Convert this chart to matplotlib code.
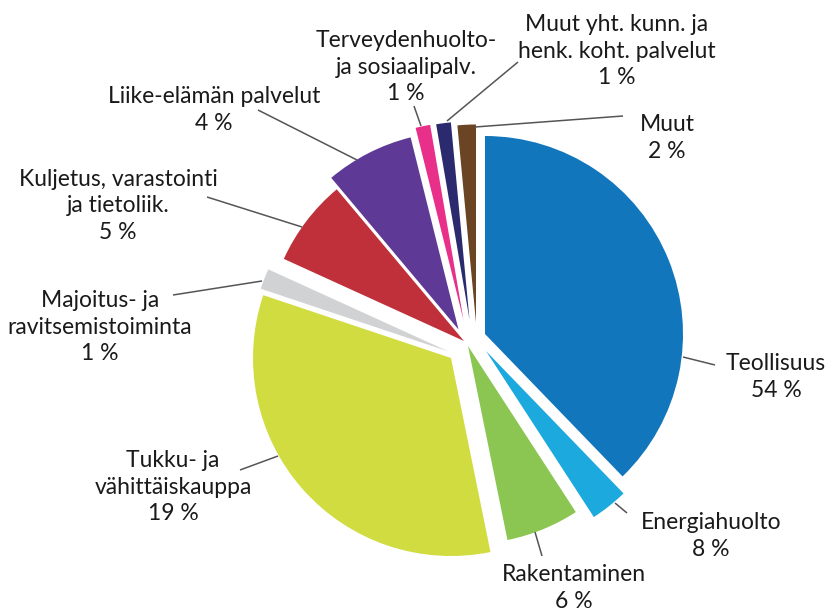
import matplotlib.pyplot as plt

W, H = 831, 611

sectors = ["Teollisuus", "Energiahuolto", "Rakentaminen",
           "Tukku- ja\nvähittäiskauppa", "Majoitus- ja\nravitsemistoiminta",
           "Kuljetus, varastointi\nja tietoliik.", "Liike-elämän palvelut",
           "Terveydenhuolto-\nja sosiaalipalv.",
           "Muut yht. kunn. ja\nhenk. koht. palvelut", "Muut"]
shares = [54, 8, 6, 19, 1, 5, 4, 1, 1, 2]          # printed in the labels
slice_deg = [136, 11, 21.5, 120, 6, 25.5, 26, 4.3, 4.3, 5.4]  # drawn slice sizes
colors = ["#1176bc", "#1ca9dd", "#8bc653", "#d1dc41", "#d1d2d4",
          "#c0303a", "#5e3a96", "#e8308a", "#2b2a6e", "#6b4423"]

# layout (pixels, y down)
cx, cy, R = 466, 338, 198
shifts = [(19, -4), (20, 13), (2, 8), (-15, 20), (-17.5, 13.5),
          (-2, 3), (-7.5, -8.5), (-2.5, -18), (3.5, -18.5), (10, -15.5)]
label_pos = [(776, 377), (711, 536), (574, 588), (173, 487), (100, 327),
             (118, 206), (214, 110), (406, 67), (617, 51), (667, 138)]
leaders = [((683, 357), (715, 365)), ((615, 503), (627, 513)),
           ((535, 532), (542, 556)), ((278, 456), (240, 470)),
           ((262, 281), (173, 295)), ((302, 227), (207, 197)),
           ((357, 160), (258, 110)), ((421, 126), (414, 106)),
           ((447, 121), (518, 62)), ((475, 127), (623, 116))]

fig = plt.figure(figsize=(W / 100, H / 100), dpi=100)
ax = fig.add_axes([0, 0, 1, 1])

wedges, _ = ax.pie(slice_deg, colors=colors, startangle=90, counterclock=False,
                   radius=R, center=(cx, H - cy), frame=True,
                   wedgeprops=dict(linewidth=0))
for w, (dx, dy) in zip(wedges, shifts):
    w.set_center((cx + dx, H - cy - dy))

for (a, b) in leaders:
    ax.plot([a[0], b[0]], [H - a[1], H - b[1]], color="#555555", lw=1.1,
            solid_capstyle="butt")

for name, pct, (x, y) in zip(sectors, shares, label_pos):
    ax.text(x, H - y, f"{name}\n{pct} %", ha="center", va="center",
            fontsize=16.5, family="Lato", color="#1a1a1a", linespacing=1.3)

ax.set_xlim(0, W)
ax.set_ylim(0, H)
ax.set_aspect("equal")
ax.axis("off")

fig.savefig("out.png", dpi=100)
